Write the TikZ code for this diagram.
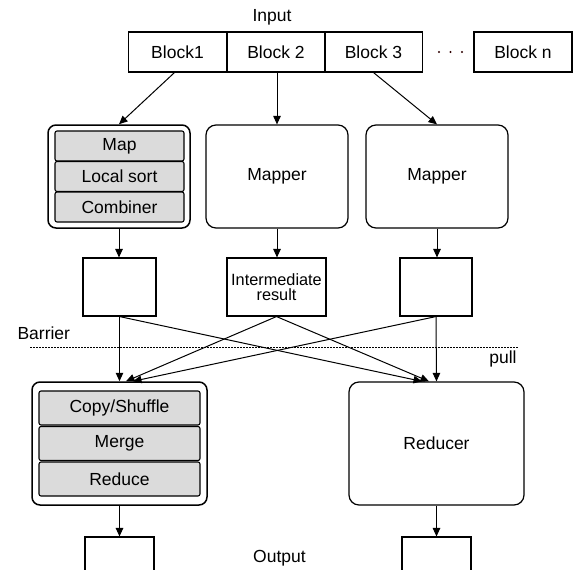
\documentclass[tikz,border=0pt]{standalone}
\usepackage{fontspec}
\setmainfont{Liberation Sans}
\usetikzlibrary{arrows.meta,calc}
\begin{document}
\begin{tikzpicture}[x=1pt,y=-1pt,
  txt/.style={font=\fontsize{17.5}{16}\selectfont},
  blk/.style={draw,line width=1.1pt,minimum width=98pt,minimum height=40pt,inner sep=0pt,txt},
  outer/.style={draw,line width=1.5pt,rounded corners=8pt,inner sep=0pt},
  single/.style={draw,line width=1.2pt,rounded corners=10pt,inner sep=0pt,txt},
  inner/.style={draw,line width=1.1pt,fill=gray!28,rounded corners=2pt,inner sep=0pt,txt},
  res/.style={draw,line width=1.1pt,inner sep=0pt,minimum height=58pt,align=center,font=\fontsize{16.3}{15.5}\selectfont},
  outbox/.style={draw,line width=1.1pt,inner sep=0pt,minimum height=38pt},
  arr/.style={line width=1pt,-{Triangle[length=8.5pt,width=7.5pt]}}
]
\useasboundingbox (0,0) rectangle (573,570);
\clip (0,0) rectangle (573,570);

% input row
\node[txt] (input) at (272,17) {Input};
\node[blk] (b1) at (177.5,52) {Block1};
\node[blk] (b2) at (276,52) {Block 2};
\node[blk] (b3) at (373.5,52) {Block 3};
\node[blk,minimum width=98pt] (bn) at (523,52) {Block n};
\fill[black!70!red!60!black] (439,52) circle (1.1pt) (450.5,52) circle (1.1pt) (462,52) circle (1.1pt);

% mappers
\node[outer,minimum width=142pt,minimum height=103pt] (m1) at (119,176.5) {};
\node[inner,minimum width=129pt,minimum height=30pt] (map) at (119.5,146) {Map};
\node[inner,minimum width=129pt,minimum height=30pt] (lsort) at (119.5,176.5) {Local sort};
\node[inner,minimum width=129pt,minimum height=30pt] (comb) at (119.5,207) {Combiner};
\node[single,minimum width=142pt,minimum height=103pt] (m2) at (277,176.5) {Mapper};
\node[single,minimum width=142pt,minimum height=103pt] (m3) at (437,176.5) {Mapper};

\draw[arr] (b1.south) ++(-3,0) -- (m1.north);
\draw[arr] (m2.north |- b2.south) -- (m2.north);
\draw[arr] (b3.south) -- (m3.north);

% intermediate results
\node[res,minimum width=73pt] (r1) at (119.5,287) {};
\node[res,minimum width=99pt] (r2) at (276.5,287) {Intermediate\\result};
\node[res,minimum width=72pt] (r3) at (436,287) {};

\draw[arr] (m1.south) -- (m1.south |- r1.north);
\draw[arr] (m2.south) -- (m2.south |- r2.north);
\draw[arr] (m3.south) -- (m3.south |- r3.north);

% barrier
\node[txt,anchor=west] (barrier) at (14,333) {Barrier};
\coordinate (dl) at (30,347);
\coordinate (dr) at (518,347);
\draw[line width=0.9pt,dash pattern=on 1.5pt off 1.5pt] (dl) -- (dr);
\node[txt] (pull) at (503,359) {pull};

% reducers
\node[outer,minimum width=175pt,minimum height=123pt] (c1) at (119.5,443.5) {};
\node[inner,minimum width=161pt,minimum height=34pt] (copy) at (119.5,408) {Copy/Shuffle};
\node[inner,minimum width=161pt,minimum height=34pt] (merge) at (119.5,443.5) {Merge};
\node[inner,minimum width=161pt,minimum height=34pt] (reduce) at (119.5,479) {Reduce};
\node[single,minimum width=175pt,minimum height=123pt] (c2) at (436.5,443.5) {Reducer};

\coordinate (c1a) at ($(c1.north)+(6.5,0)$);
\coordinate (c1b) at ($(c1.north)+(13.5,0)$);
\coordinate (c2a) at ($(c2.north)+(-14.5,0)$);
\coordinate (c2b) at ($(c2.north)+(-7.5,0)$);

\draw[arr] (r1.south) -- (c1.north);
\draw[arr] (r1.south) -- (c2a);
\draw[arr] (r2.south) -- (c1a);
\draw[arr] (r2.south) -- (c2b);
\draw[arr] (r3.south) -- (c1b);
\draw[arr] (r3.south) -- (c2.north);

% outputs
\node[outbox,minimum width=69pt] (o1) at (119.5,556) {};
\node[outbox,minimum width=69pt] (o2) at (436.5,556) {};
\node[txt] (output) at (279.5,558) {Output};

\draw[arr] (c1.south) -- (o1.north);
\draw[arr] (c2.south) -- (o2.north);
\end{tikzpicture}
\end{document}
